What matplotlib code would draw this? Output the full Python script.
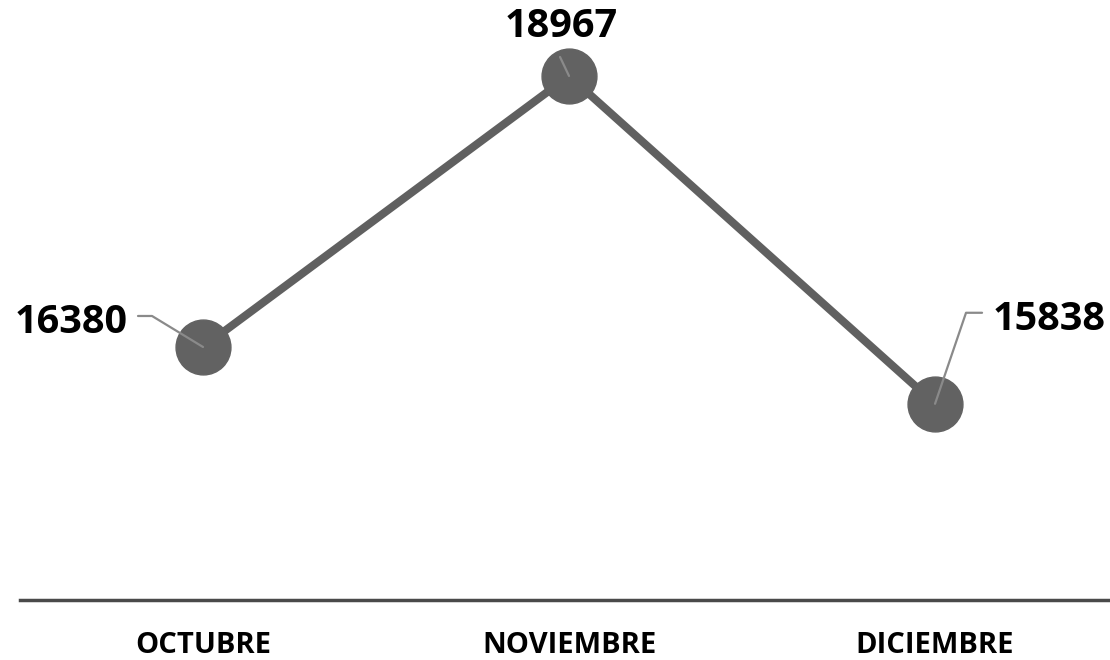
import matplotlib.pyplot as plt

months = ['OCTUBRE', 'NOVIEMBRE', 'DICIEMBRE']
sales = [16380, 18967, 15838]

# label offsets (pixels from the point) and leader line settings
label_off = [(-75, 14), (-8, 39), (58, 74)]
label_ha = ['right', 'center', 'left']
leader_start = [(-65, 31), (-9, 19), (47, 91)]
leader_style = ['angle,angleA=0,angleB=148.7,rad=0', 'arc3,rad=0',
                'angle,angleA=180,angleB=71.2,rad=0']

plt.rcParams['font.family'] = ['Open Sans', 'DejaVu Sans']

fig = plt.figure(figsize=(11.1, 6.6), dpi=100)
ax = fig.add_axes([20 / 1110, 60 / 660, 1090 / 1110, 600 / 660])

x = list(range(len(months)))
ax.plot(x, sales, color='#606060', lw=5.8, marker='o', markersize=39.5,
        markerfacecolor='#626262', markeredgecolor='#626262', clip_on=False, zorder=2)

for i, v in enumerate(sales):
    ax.annotate('', xy=(i, v), xytext=leader_start[i], textcoords='offset pixels',
                arrowprops=dict(arrowstyle='-', color='#8a8a8a', lw=1.6,
                                shrinkA=0, shrinkB=0, connectionstyle=leader_style[i]),
                zorder=3)
    ax.annotate(str(v), xy=(i, v), xytext=label_off[i], textcoords='offset pixels',
                ha=label_ha[i], va='baseline', fontsize=28.5, fontweight='bold', color='black')

ax.set_xlim(-0.5, 2.478)
ax.set_ylim(13965, 19692)
ax.set_xticks(x)
ax.set_xticklabels(months, fontsize=21, fontweight='bold')
for lab in ax.get_xticklabels():
    lab.set_va('baseline')
ax.tick_params(axis='x', length=0, pad=38.5)
ax.set_yticks([])
for s in ['top', 'right', 'left']:
    ax.spines[s].set_visible(False)
ax.spines['bottom'].set_color('#4a4a4a')
ax.spines['bottom'].set_linewidth(2.5)

fig.savefig('out.png', dpi=100)
